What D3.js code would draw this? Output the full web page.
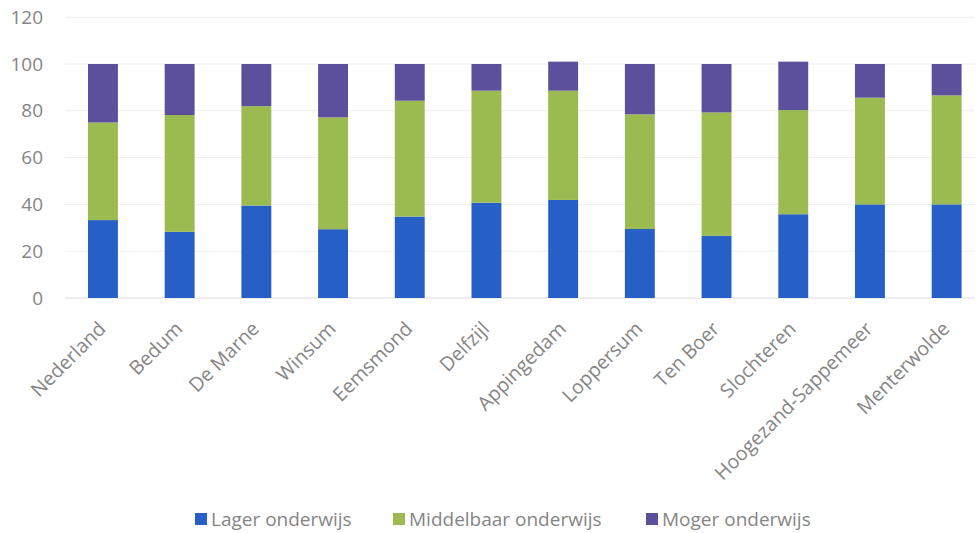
<!DOCTYPE html>
<html>
<head>
<meta charset="utf-8">
<script src="https://cdn.jsdelivr.net/npm/d3@7"></script>
<style>
  html, body { margin: 0; padding: 0; background: #fff; }
  svg { display: block; }
  text { font-family: "Open Sans", sans-serif; }
</style>
</head>
<body>
<svg id="chart" width="978" height="533"></svg>
<script>
const categories = ["Nederland", "Bedum", "De Marne", "Winsum", "Eemsmond", "Delfzijl",
  "Appingedam", "Loppersum", "Ten Boer", "Slochteren", "Hoogezand-Sappemeer", "Menterwolde"];
const seriesNames = ["Lager onderwijs", "Middelbaar onderwijs", "Moger onderwijs"];
const lager      = [33.3, 28.3, 39.5, 29.4, 34.8, 40.7, 41.9, 29.5, 26.6, 35.8, 40.0, 40.0];
const middelbaar = [41.7, 49.9, 42.5, 47.8, 49.5, 47.9, 46.7, 49.0, 52.7, 44.5, 45.6, 46.6];
const hoger      = [25.0, 21.8, 18.0, 22.8, 15.7, 11.4, 12.4, 21.5, 20.7, 20.7, 14.4, 13.4];
const yTicks = [0, 20, 40, 60, 80, 100, 120];
const colors = ["#2660c6", "#9bba50", "#5c4f9c"];

const rows = categories.map((c, i) => ({cat: c, s0: lager[i], s1: middelbaar[i], s2: hoger[i]}));
const stack = d3.stack().keys(["s0", "s1", "s2"])(rows);

const svg = d3.select("#chart");
const x = d3.scaleBand().domain(categories).range([64.6, 985]).paddingInner(0.61).paddingOuter(0.305);
const y = d3.scaleLinear().domain([0, 120]).range([298, 17.2]);

// gridlines
svg.append("g").selectAll("line").data(yTicks).join("line")
  .attr("x1", 65).attr("x2", 975)
  .attr("y1", d => y(d)).attr("y2", d => y(d))
  .attr("stroke", d => d === 0 ? "#dcdcdc" : "#eeeeee")
  .attr("stroke-width", 1);

// y axis
const yAxis = d3.axisLeft(y).tickValues(yTicks).tickSize(0).tickPadding(0);
const gy = svg.append("g").attr("transform", "translate(43,0)").call(yAxis);
gy.select(".domain").remove();
gy.selectAll("text").attr("fill", "#858585").style("font-size", "19px")
  .style("font-family", "'Open Sans', sans-serif");

// bars
svg.append("g").selectAll("g").data(stack).join("g")
  .attr("fill", (d, i) => colors[i])
  .selectAll("rect").data(d => d).join("rect")
  .attr("x", d => x(d.data.cat))
  .attr("width", x.bandwidth())
  .attr("y", d => y(d[1]))
  .attr("height", d => y(d[0]) - y(d[1]));

// x axis labels
const xAxis = d3.axisBottom(x).tickSize(0).tickPadding(0);
const gx = svg.append("g").attr("transform", "translate(0,298)").call(xAxis);
gx.select(".domain").remove();
gx.selectAll("text")
  .attr("fill", "#858585").style("font-size", "19.5px")
  .style("font-family", "'Open Sans', sans-serif")
  .attr("text-anchor", "end")
  .attr("dy", "0")
  .attr("y", 0)
  .attr("transform", "translate(4,32) rotate(-45)");

// legend
const legendX = [195, 393, 646];
const lg = svg.append("g").selectAll("g").data(seriesNames).join("g")
  .attr("transform", (d, i) => `translate(${legendX[i]},519)`);
lg.append("rect").attr("x", 0).attr("y", -6).attr("width", 12).attr("height", 12)
  .attr("fill", (d, i) => colors[i]);
lg.append("text").attr("x", 16).attr("y", 0).attr("dy", "0.35em")
  .attr("fill", "#858585").style("font-size", "19px").text(d => d);
</script>
</body>
</html>
